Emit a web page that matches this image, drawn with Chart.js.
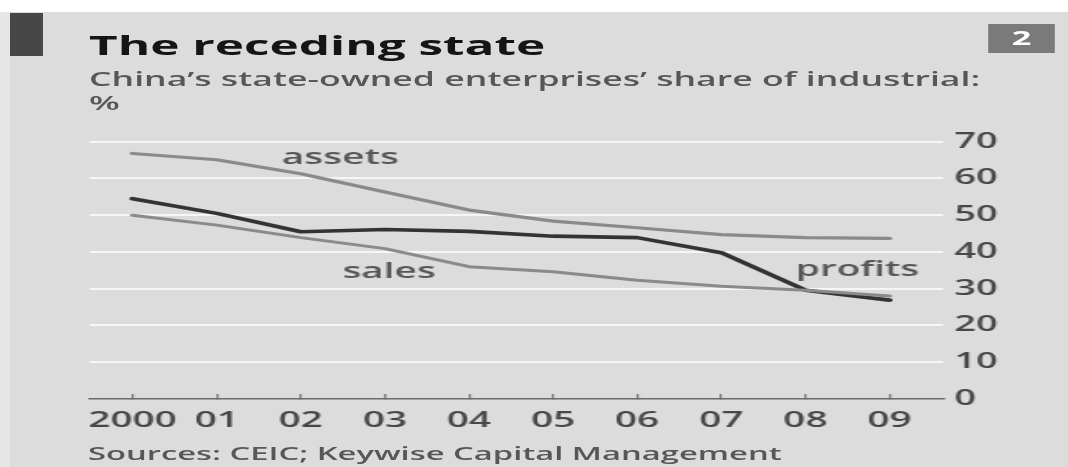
<!DOCTYPE html>
<html>
<head>
<meta charset="utf-8">
<script src="https://cdn.jsdelivr.net/npm/chart.js@4.4.1/dist/chart.umd.min.js"></script>
<style>
  html, body { margin:0; padding:0; background:#fff; }
  #page { position:relative; width:1068px; height:467px; overflow:hidden; background:#fff; font-family:"Open Sans", sans-serif; }
  #edge { position:absolute; left:0; top:12px; width:10px; bottom:0; background:#e6e6e6; }
  #panel { position:absolute; left:10px; top:12px; right:0; bottom:0; background:#dcdcdc; }
  #bar { position:absolute; left:10px; top:13px; width:33px; height:43px; background:#474747; }
  #stretch { position:absolute; left:0; top:0; height:467px; transform-origin:0 0; }
  .t { position:absolute; white-space:nowrap; line-height:1; }
  #title { font-weight:700; color:#151515; font-size:27.5px; }
  #sub, #pct { font-weight:600; color:#575757; font-size:19.8px; }
  #src { font-weight:600; color:#575757; font-size:18.2px; }
  #num { position:absolute; background:#7a7a7a; color:#fff; font-weight:700; font-size:19px; text-align:center; line-height:29px; }
  #cwrap { position:absolute; }
</style>
</head>
<body>
<div id="page">
  <div id="edge"></div>
  <div id="panel"></div>
  <div id="bar"></div>
  <div id="stretch">
    <div id="title" class="t">The receding state</div>
    <div id="sub" class="t">China’s state-owned enterprises’ share of industrial:</div>
    <div id="pct" class="t">%</div>
    <div id="num">2</div>
    <div id="src" class="t">Sources: CEIC; Keywise Capital Management</div>
    <div id="cwrap"><canvas id="c"></canvas></div>
  </div>
</div>
<script>
// ---- data ----
const years   = ["2000", "01", "02", "03", "04", "05", "06", "07", "08", "09"];
const assets  = [66.8, 65.1, 61.3, 56.3, 51.4, 48.4, 46.6, 44.7, 43.9, 43.7];
const sales   = [50.0, 47.3, 43.9, 40.9, 36.0, 34.6, 32.3, 30.7, 29.6, 28.0];
const profits = [54.5, 50.5, 45.5, 46.1, 45.6, 44.3, 43.9, 39.8, 29.6, 26.9];
const yTicks  = [0, 10, 20, 30, 40, 50, 60, 70];
const seriesNames = ["assets", "sales", "profits"];

// ---- layout (horizontal stretch of the whole graphic) ----
const S = 1.8;
const W = 1068 / S;
const st = document.getElementById('stretch');
st.style.width = W + 'px';
st.style.transform = 'scaleX(' + S + ')';
function place(id, x, top, w, h) {
  const e = document.getElementById(id);
  e.style.left = (x / S) + 'px';
  e.style.top = top + 'px';
  if (w != null) e.style.width = (w / S) + 'px';
  if (h != null) e.style.height = h + 'px';
}
place('title', 89, 31);
place('sub', 89, 69);
place('pct', 89, 93);
place('num', 988, 24, 67, 29);
place('src', 88, 444);
const CX0 = 40, CX1 = 1010, CTOP = 120, CH = 320;
const PADL = 90 - CX0;
place('cwrap', CX0, CTOP, CX1 - CX0, CH);

const labelPos = { assets: [2.47, 65.5], sales: [3.05, 34.5], profits: [8.62, 35.0] };

const seriesLabels = {
  id: 'seriesLabels',
  afterDatasetsDraw(chart) {
    const ctx = chart.ctx, xs = chart.scales.x, ys = chart.scales.y;
    ctx.save();
    ctx.font = '600 21.5px "Open Sans"';
    ctx.fillStyle = '#575757';
    ctx.textAlign = 'center';
    ctx.textBaseline = 'middle';
    seriesNames.forEach(n => {
      const p = labelPos[n];
      ctx.fillText(n, xs.getPixelForValue(p[0]), ys.getPixelForValue(p[1]));
    });
    ctx.restore();
  }
};

const toPts = arr => arr.map((v, i) => ({ x: i, y: v }));

new Chart(document.getElementById('c'), {
  type: 'line',
  data: {
    datasets: [
      { label: 'assets', data: toPts(assets), borderColor: '#8a8a8a', borderWidth: 3.2 },
      { label: 'sales', data: toPts(sales), borderColor: '#8a8a8a', borderWidth: 3.0 },
      { label: 'profits', data: toPts(profits), borderColor: '#333333', borderWidth: 3.6 }
    ]
  },
  options: {
    responsive: true,
    maintainAspectRatio: false,
    animation: false,
    events: [],
    elements: { point: { radius: 0 }, line: { tension: 0, borderCapStyle: 'round', borderJoinStyle: 'round' } },
    layout: { padding: { left: PADL / S, top: 21.7, right: 0, bottom: 0 } },
    plugins: { legend: { display: false }, tooltip: { enabled: false } },
    scales: {
      x: {
        type: 'linear',
        min: -0.51,
        max: 9.64,
        afterBuildTicks: a => { a.ticks = years.map((_, i) => ({ value: i })); },
        afterFit: a => { a.height = CH - 21.7 - (399 - 141.7); },
        ticks: {
          callback: v => years[v],
          color: '#474747',
          font: { family: 'Open Sans', size: 21.5, weight: '600' },
          padding: 14,
          maxRotation: 0,
          autoSkip: false
        },
        grid: { drawOnChartArea: false, drawTicks: true, tickLength: -5, color: '#7a7a7a', lineWidth: 1.2 },
        border: { display: true, color: '#6a6a6a', width: 1.6 }
      },
      y: {
        position: 'right',
        min: 0,
        max: 70,
        afterBuildTicks: a => { a.ticks = yTicks.map(v => ({ value: v })); },
        afterFit: a => { a.width = (CX1 - 942) / S; },
        ticks: {
          color: '#474747',
          font: { family: 'Open Sans', size: 21, weight: '600' },
          padding: (953 - 942) / S
        },
        grid: {
          drawTicks: false,
          color: c => (c.tick && c.tick.value === 0) ? 'rgba(0,0,0,0)' : '#f6f6f6',
          lineWidth: 2
        },
        border: { display: false }
      }
    }
  },
  plugins: [seriesLabels]
});
</script>
</body>
</html>
